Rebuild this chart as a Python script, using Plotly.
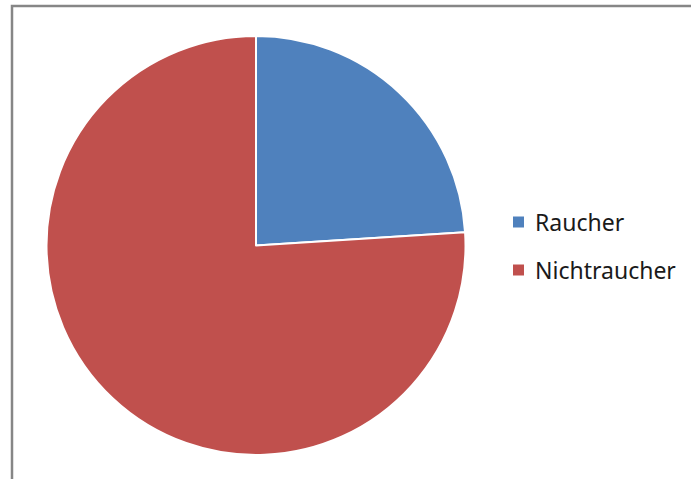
import plotly.graph_objects as go

# Anteil Raucher / Nichtraucher
labels = ["Raucher", "Nichtraucher"]
values = [24, 76]
colors = ["#4F81BD", "#C0504D"]

W, H = 691, 479

fig = go.Figure()
fig.add_trace(go.Pie(
    labels=labels,
    values=values,
    sort=False,
    direction="clockwise",
    rotation=0,
    marker=dict(colors=colors, line=dict(color="white", width=2)),
    textinfo="none",
    hoverinfo="label+percent",
    showlegend=False,
    domain=dict(x=[46 / W, 466 / W], y=[1 - 455 / H, 1 - 36 / H]),
))

# Diagrammrahmen
fig.add_shape(type="rect", xref="paper", yref="paper",
              x0=12 / W, x1=1.05, y0=-0.05, y1=1 - 6 / H,
              line=dict(color="#868686", width=2.5), fillcolor="rgba(0,0,0,0)")

# Legende (Farbquadrat + Beschriftung)
leg_y = [222, 270]
for lab, col, yy in zip(labels, colors, leg_y):
    fig.add_shape(type="rect", xref="paper", yref="paper",
                  x0=513 / W, x1=524 / W, y0=1 - (yy + 5.5) / H, y1=1 - (yy - 5.5) / H,
                  line=dict(width=0), fillcolor=col)
    fig.add_annotation(x=533 / W, y=1 - yy / H, xref="paper", yref="paper",
                       text=lab, showarrow=False, xanchor="left", yanchor="middle",
                       font=dict(family="Noto Sans", size=23, color="#1a1a1a"))

fig.update_layout(
    width=W, height=H,
    margin=dict(l=0, r=0, t=0, b=0),
    paper_bgcolor="white",
    plot_bgcolor="white",
)

fig.write_html("out.html")
